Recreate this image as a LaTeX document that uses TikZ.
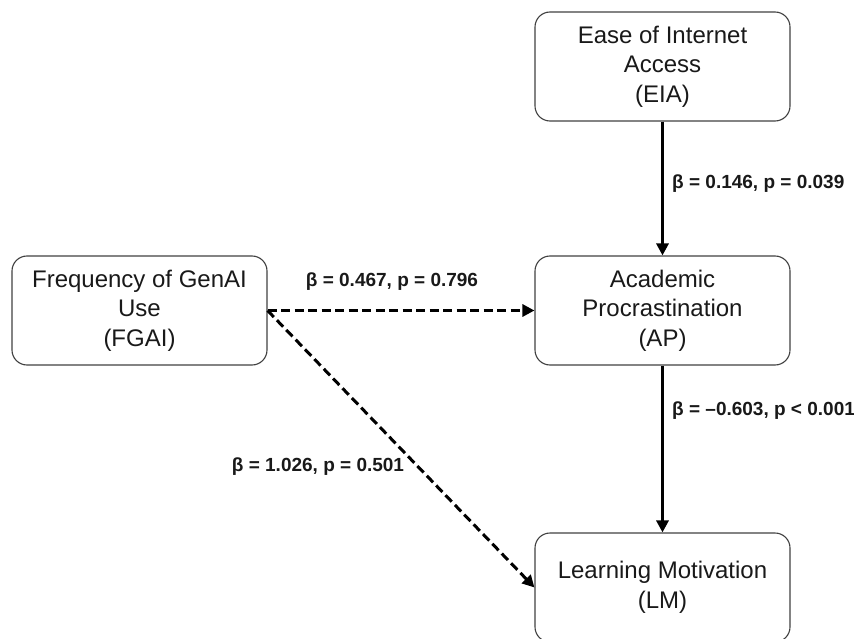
\documentclass[tikz,border=0pt]{standalone}
\usepackage{fontspec}
\setmainfont{Liberation Sans}
\usetikzlibrary{arrows.meta}
\tikzset{
  varbox/.style={draw=black!75, line width=1.1pt, rounded corners=15pt, minimum width=255pt, minimum height=109pt, inner sep=0pt, align=center, font=\fontsize{24}{29.5}\selectfont, text=black!90},
  solidarrow/.style={line width=3pt, -{Triangle[length=12pt,width=12pt]}},
  dasharrow/.style={line width=3pt, dash pattern=on 9pt off 4.5pt, -{Triangle[length=12pt,width=12pt]}},
  coef/.style={font=\bfseries\fontsize{19}{23}\selectfont, inner sep=0pt, text=black!90}
}
\begin{document}
\begin{tikzpicture}[x=1pt,y=-1pt]
\useasboundingbox (0,0) rectangle (854,639);
\node[varbox] (EIA) at (662.5,66.5) {Ease of Internet\\Access\\(EIA)};
\node[varbox] (AP) at (662.5,310.5) {Academic\\Procrastination\\(AP)};
\node[varbox] (LM) at (662.5,587.5) {Learning Motivation\\(LM)};
\node[varbox] (FGAI) at (139.5,310.5) {Frequency of GenAI\\Use\\(FGAI)};
\draw[solidarrow] (EIA.south) -- (AP.north);
\draw[solidarrow] (AP.south) -- (LM.north);
\draw[dasharrow] (FGAI.east) -- (AP.west);
\draw[dasharrow] (FGAI.east) -- (LM.west);
\node[coef, anchor=west] (l1) at (672,184) {β = 0.146, p = 0.039};
\node[coef, anchor=west] (l2) at (672,411) {β = –0.603, p < 0.001};
\node[coef] (l3) at (392,282) {β = 0.467, p = 0.796};
\node[coef] (l4) at (318,467) {β = 1.026, p = 0.501};
\end{tikzpicture}
\end{document}
